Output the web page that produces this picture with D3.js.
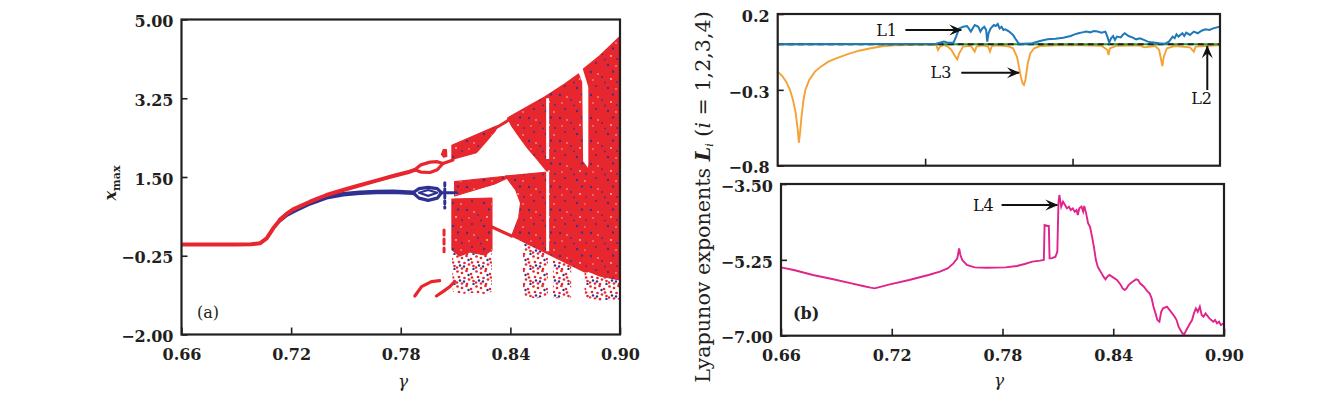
<!DOCTYPE html>
<html><head><meta charset="utf-8">
<script src="https://cdn.jsdelivr.net/npm/d3@7"></script>
<style>html,body{margin:0;padding:0;background:#fff}svg{display:block}</style>
</head><body>
<svg id="chart" width="1339" height="394"></svg>
<script>
// ---------------- tick values ----------------
const gammaTicks = [0.66, 0.72, 0.78, 0.84, 0.90];
const xmaxTicks = [-2.00, -0.25, 1.50, 3.25, 5.00];
const lyapTopTicks = [-0.8, -0.3, 0.2];
const lyapTopGammaTicks = [0.74, 0.82];
const lyapBotTicks = [-7.00, -5.25, -3.50];

// ---------------- panel (a): bifurcation diagram [gamma, x_max] ----------------
const redBranch = [[0.66,0.0],[0.690,0.0],[0.698,0.004],[0.7029,0.027],[0.7066,0.138],[0.7102,0.36],[0.7139,0.544],[0.7175,0.678],[0.7211,0.782],[0.7303,0.951],[0.7394,1.10],[0.7485,1.211],[0.7576,1.316],[0.7667,1.418],[0.7758,1.522],[0.7849,1.618],[0.7877,1.66]];
const redLoopUpper = [[0.7877,1.66],[0.7910,1.77],[0.7960,1.83],[0.8000,1.84],[0.8031,1.80],[0.8086,1.88]];
const redLoopLower = [[0.7877,1.66],[0.7910,1.61],[0.7960,1.60],[0.8000,1.66],[0.8031,1.80]];
const redLink = [[0.8314,2.58],[0.8340,2.64],[0.8378,2.73],[0.8400,2.80]];
const redDiagonal = [[0.8296,0.396],[0.8407,0.189]];
const redArc1 = [[0.7877,-1.144],[0.7914,-0.937],[0.7968,-0.826],[0.8013,-0.804]];
const redArc2 = [[0.7995,-1.144],[0.8031,-1.048],[0.8068,-0.937],[0.8095,-0.826]];
const redDashes = [[0.8037,0.32],[0.8037,-0.16]];
const blueBranch = [[0.7139,0.544],[0.7175,0.66],[0.7211,0.74],[0.7303,0.916],[0.7394,1.049],[0.7485,1.116],[0.7576,1.151],[0.7667,1.165],[0.7758,1.172],[0.7867,1.15]];
const blueLoopUpper = [[0.7867,1.15],[0.7900,1.24],[0.7950,1.27],[0.8000,1.24],[0.8023,1.15],[0.8105,1.15]];
const blueLoopLower = [[0.7867,1.15],[0.7900,1.03],[0.7950,0.98],[0.8000,1.03],[0.8023,1.15]];
const blueLoopInner = [[0.7900,1.15],[0.7950,1.21],[0.8000,1.15],[0.7950,1.08],[0.7900,1.15]];
const blueDashes = [[0.8041,1.37],[0.8041,0.81]];
// dense chaotic bands (outlines)
const bandR1 = [[0.8080,2.204],[0.8314,2.618],[0.8332,2.633],[0.8314,2.507],[0.8259,2.249],[0.8214,2.040],[0.8080,1.893]];
const bandMid = [[0.8095,1.396],[0.8385,1.522],[0.8385,1.478],[0.8314,1.344],[0.8095,1.078]];
const blockB1 = [[0.8080,1.011],[0.8299,1.033],[0.8299,-0.12],[0.8259,-0.233],[0.8177,-0.167],[0.8123,-0.256],[0.8080,-0.12]];
const regionUM = [[0.8385,2.811],[0.8451,2.967],[0.8587,3.278],[0.8697,3.567],[0.8773,3.789],[0.8790,3.60],[0.8795,1.85],[0.8822,1.70],[0.8822,-0.611],[0.8806,-0.611],[0.8407,0.189],[0.8445,0.589],[0.8456,0.922],[0.8429,1.211],[0.8396,1.389],[0.8374,1.522],[0.8604,1.611],[0.8549,1.878],[0.8494,2.144],[0.8445,2.411],[0.8407,2.633]];
const regionR = [[0.8800,3.90],[0.8888,4.189],[0.8997,4.611],[0.8997,-0.789],[0.8888,-0.700],[0.8811,-0.567],[0.8811,0.989],[0.8830,1.80],[0.8830,3.50]];
const blobA = [[0.8023,2.0],[0.8033,2.11],[0.8050,2.11],[0.8052,1.96],[0.8035,1.94]];
// sparse (dotted) chaotic parts
const sparseB1 = [[0.8080,-0.12],[0.8299,-0.12],[0.8299,-1.05],[0.8259,-1.10],[0.8190,-1.08],[0.8130,-1.10],[0.8085,-1.05]];
const sparseS2 = [[0.8469,0.05],[0.8605,-0.22],[0.8605,-1.15],[0.8540,-1.20],[0.8469,-1.15]];
const sparseS3 = [[0.8633,-0.28],[0.8733,-0.45],[0.8733,-1.18],[0.8633,-1.20]];
const sparseR = [[0.8806,-0.55],[0.8997,-0.75],[0.8997,-1.22],[0.8900,-1.25],[0.8806,-1.18]];
// periodic windows (gaps) inside chaotic bands: [gamma, top, bottom]
const windowsA = [[0.8604,3.25,1.90],[0.8604,1.62,-0.15]];

// ---------------- panel (b) top: Lyapunov exponents L1, L2, L3 ----------------
const L1 = [[0.66,0.0],[0.7460,0.004],[0.7502,0.018],[0.7522,0.011],[0.7554,0.011],[0.7568,0.051],[0.7585,0.105],[0.7606,0.116],[0.7627,0.121],[0.7637,0.105],[0.7648,0.084],[0.7658,0.105],[0.7669,0.127],[0.7689,0.116],[0.7700,0.084],[0.7710,0.105],[0.7721,0.116],[0.7731,0.095],[0.7737,0.018],[0.7744,0.073],[0.7756,0.105],[0.7773,0.127],[0.7783,0.121],[0.7794,0.134],[0.7804,0.105],[0.7815,0.116],[0.7825,0.095],[0.7835,0.099],[0.7856,0.084],[0.7877,0.062],[0.7894,0.029],[0.7909,0.004],[0.7940,0.004],[0.7982,0.007],[0.8023,0.022],[0.8065,0.033],[0.8107,0.037],[0.8149,0.044],[0.8190,0.055],[0.8211,0.066],[0.8232,0.073],[0.8253,0.079],[0.8274,0.084],[0.8295,0.079],[0.8316,0.088],[0.8336,0.084],[0.8357,0.077],[0.8378,0.084],[0.8389,0.051],[0.8399,0.011],[0.8409,0.040],[0.8420,0.055],[0.8430,0.029],[0.8441,0.051],[0.8462,0.046],[0.8472,0.062],[0.8483,0.073],[0.8504,0.055],[0.8524,0.046],[0.8545,0.033],[0.8566,0.040],[0.8587,0.029],[0.8608,0.018],[0.8629,0.013],[0.8649,0.011],[0.8670,0.007],[0.8702,0.004],[0.8723,0.018],[0.8743,0.051],[0.8754,0.040],[0.8764,0.066],[0.8775,0.051],[0.8796,0.073],[0.8806,0.055],[0.8817,0.077],[0.8837,0.062],[0.8858,0.084],[0.8879,0.073],[0.8900,0.090],[0.8921,0.099],[0.8942,0.095],[0.8963,0.105],[0.8983,0.112],[0.9000,0.116]];
const L2 = [[0.66,0.0],[0.90,0.0]];
const L3 = [[0.66,-0.180],[0.6625,-0.209],[0.6646,-0.246],[0.6667,-0.301],[0.6683,-0.367],[0.6698,-0.455],[0.6709,-0.565],[0.6715,-0.648],[0.6721,-0.587],[0.6729,-0.477],[0.6740,-0.367],[0.6750,-0.301],[0.6771,-0.235],[0.6802,-0.180],[0.6834,-0.147],[0.6875,-0.114],[0.6917,-0.092],[0.6980,-0.064],[0.7042,-0.042],[0.7105,-0.026],[0.7168,-0.013],[0.7230,-0.007],[0.7314,-0.004],[0.7397,-0.002],[0.7460,-0.004],[0.7470,-0.037],[0.7481,-0.015],[0.7502,-0.004],[0.7522,-0.015],[0.7543,-0.037],[0.7564,-0.081],[0.7575,-0.099],[0.7585,-0.059],[0.7606,-0.015],[0.7648,-0.009],[0.7669,-0.048],[0.7679,-0.015],[0.7710,-0.007],[0.7742,-0.015],[0.7752,-0.048],[0.7762,-0.011],[0.7794,-0.007],[0.7835,-0.011],[0.7856,-0.015],[0.7877,-0.026],[0.7898,-0.081],[0.7909,-0.147],[0.7919,-0.213],[0.7929,-0.257],[0.7936,-0.268],[0.7944,-0.235],[0.7957,-0.125],[0.7971,-0.059],[0.7992,-0.026],[0.8023,-0.011],[0.8149,-0.004],[0.8253,-0.007],[0.8357,-0.009],[0.8389,-0.037],[0.8395,-0.070],[0.8403,-0.026],[0.8441,-0.009],[0.8566,-0.007],[0.8587,-0.020],[0.8649,-0.011],[0.8670,-0.037],[0.8687,-0.143],[0.8695,-0.081],[0.8712,-0.026],[0.8754,-0.011],[0.8837,-0.020],[0.8858,-0.048],[0.8868,-0.015],[0.8921,-0.011],[0.8983,-0.007],[0.9000,-0.007]];

// ---------------- panel (b) bottom: Lyapunov exponent L4 ----------------
const L4 = [[0.66,-5.423],[0.6669,-5.485],[0.6773,-5.600],[0.6877,-5.692],[0.6982,-5.792],[0.7044,-5.854],[0.7086,-5.892],[0.7107,-5.908],[0.7128,-5.885],[0.7190,-5.815],[0.7294,-5.715],[0.7399,-5.600],[0.7461,-5.523],[0.7503,-5.446],[0.7534,-5.331],[0.7555,-5.215],[0.7565,-4.985],[0.7572,-5.138],[0.7582,-5.254],[0.7607,-5.369],[0.7649,-5.423],[0.7711,-5.431],[0.7816,-5.423],[0.7878,-5.392],[0.7920,-5.346],[0.7962,-5.292],[0.8003,-5.269],[0.8024,-5.254],[0.8028,-4.446],[0.8045,-4.469],[0.8051,-4.469],[0.8055,-5.215],[0.8066,-5.215],[0.8087,-5.177],[0.8097,-5.062],[0.8103,-3.946],[0.8108,-3.754],[0.8118,-4.023],[0.8128,-3.908],[0.8139,-3.985],[0.8149,-4.062],[0.8160,-4.023],[0.8170,-4.100],[0.8181,-4.062],[0.8191,-4.138],[0.8201,-4.100],[0.8208,-4.215],[0.8216,-4.062],[0.8228,-4.023],[0.8237,-4.138],[0.8243,-4.008],[0.8253,-4.177],[0.8264,-4.408],[0.8274,-4.485],[0.8285,-4.715],[0.8295,-4.946],[0.8306,-5.254],[0.8316,-5.408],[0.8326,-5.485],[0.8337,-5.562],[0.8347,-5.638],[0.8358,-5.700],[0.8368,-5.638],[0.8379,-5.600],[0.8399,-5.654],[0.8420,-5.715],[0.8441,-5.831],[0.8451,-5.908],[0.8462,-5.946],[0.8472,-5.908],[0.8483,-5.831],[0.8504,-5.754],[0.8524,-5.700],[0.8535,-5.715],[0.8545,-5.792],[0.8566,-5.869],[0.8587,-5.985],[0.8597,-6.023],[0.8608,-6.138],[0.8618,-6.331],[0.8629,-6.485],[0.8639,-6.638],[0.8650,-6.677],[0.8660,-6.446],[0.8670,-6.369],[0.8691,-6.331],[0.8712,-6.446],[0.8733,-6.562],[0.8743,-6.638],[0.8754,-6.792],[0.8764,-6.869],[0.8775,-6.946],[0.8785,-6.962],[0.8796,-6.869],[0.8806,-6.792],[0.8816,-6.715],[0.8827,-6.638],[0.8837,-6.485],[0.8848,-6.369],[0.8858,-6.446],[0.8869,-6.331],[0.8879,-6.523],[0.8889,-6.562],[0.8900,-6.485],[0.8921,-6.600],[0.8942,-6.677],[0.8952,-6.638],[0.8962,-6.715],[0.8973,-6.677],[0.8983,-6.754],[0.9000,-6.715]];

// annotation arrows (gamma / exponent coordinates)
const arrowsTop = [
  {text:"L1", tg:0.7269, tv:0.0945, g1:0.7293, v1:0.0945, g2:0.7596, v2:0.0945, anchor:"end"},
  {text:"L3", tg:0.7564, tv:-0.187, g1:0.7596, v1:-0.187, g2:0.7909, v2:-0.187, anchor:"end"},
  {text:"L2", tg:0.8900, tv:-0.356, g1:0.8931, v1:-0.301, g2:0.8931, v2:-0.012, anchor:"middle"}
];
const arrowsBot = [
  {text:"L4", tg:0.7774, tv:-3.985, g1:0.7795, v1:-3.985, g2:0.8097, v2:-3.985, anchor:"end"}
];

// ---------------- drawing ----------------
const RED="#e8262d", BLUE="#2e3192", ORANGE="#f4a236", C1="#1f78b8", GREEN="#2ca02c", MAG="#e0248c", INK="#231f20";
const SERIF="'DejaVu Serif', 'Liberation Serif', serif";
const svg = d3.select("#chart");
const defs = svg.append("defs");

const xa = d3.scaleLinear().domain([0.66,0.90]).range([181.5,620]);
const ya = d3.scaleLinear().domain([-2,5]).range([334.5,19.5]);
const xb1 = d3.scaleLinear().domain([0.66,0.90]).range([777.7,1220]);
const yb1 = d3.scaleLinear().domain([-0.8,0.2]).range([165.7,14]);
const xb2 = d3.scaleLinear().domain([0.66,0.90]).range([781,1224]);
const yb2 = d3.scaleLinear().domain([-7,-3.5]).range([335.7,184]);

function clip(id,xs,ys){
  defs.append("clipPath").attr("id",id).append("rect")
    .attr("x",xs.range()[0]).attr("y",ys.range()[1])
    .attr("width",xs.range()[1]-xs.range()[0]).attr("height",ys.range()[0]-ys.range()[1]);
}
clip("ca",xa,ya); clip("cb1",xb1,yb1); clip("cb2",xb2,yb2);

// texture patterns (style only)
const pb = defs.append("pattern").attr("id","pBlue").attr("patternUnits","userSpaceOnUse").attr("width",31).attr("height",23);
[[2,3,1.2],[13,8,1.0],[24,2.5,1.2],[7,17,1.1],[19,19,1.2],[28,13,1.0],[16,13.5,0.9]].forEach(p=>pb.append("circle").attr("cx",p[0]).attr("cy",p[1]).attr("r",p[2]).attr("fill",BLUE).attr("opacity",0.85));
[[9,5,0.8],[22,10,0.9],[4,11,0.7],[27,20,0.8]].forEach(p=>pb.append("circle").attr("cx",p[0]).attr("cy",p[1]).attr("r",p[2]).attr("fill","#fff").attr("opacity",0.75));
const ps = defs.append("pattern").attr("id","pSparse").attr("patternUnits","userSpaceOnUse").attr("width",19).attr("height",15);
[[1.5,1.5],[6,3],[10.5,1],[15,4],[3,7],[8.5,8],[13,9.5],[17.5,11],[1,12.5],[6,13.5],[11,14],[16,7.5]].forEach(p=>ps.append("circle").attr("cx",p[0]).attr("cy",p[1]).attr("r",1.35).attr("fill",RED));
[[12.5,5],[4,10.5],[17.5,14],[8,11.5]].forEach(p=>ps.append("circle").attr("cx",p[0]).attr("cy",p[1]).attr("r",1.2).attr("fill",BLUE));

// arrow marker
defs.append("marker").attr("id","ah").attr("viewBox","-13 -7 15 14").attr("refX",0).attr("refY",0)
  .attr("markerWidth",15).attr("markerHeight",14).attr("markerUnits","userSpaceOnUse").attr("orient","auto")
  .append("path").attr("d","M1,0 L-12,-5.5 L-7,0 L-12,5.5 Z").attr("fill","#111");

// ---- panel (a)
const ga = svg.append("g").attr("clip-path","url(#ca)");
const lineA = d3.line().x(d=>xa(d[0])).y(d=>ya(d[1]));
const polyA = d=>lineA(d)+"Z";
[sparseB1,sparseS2,sparseS3,sparseR].forEach(p=>ga.append("path").attr("d",polyA(p)).attr("fill","url(#pSparse)"));
[bandR1,bandMid,blockB1,regionUM,regionR,blobA].forEach(p=>{
  ga.append("path").attr("d",polyA(p)).attr("fill",RED).attr("stroke",RED).attr("stroke-width",1.2).attr("stroke-linejoin","round");
  ga.append("path").attr("d",polyA(p)).attr("fill","url(#pBlue)");
});
windowsA.forEach(w=>ga.append("line").attr("x1",xa(w[0])).attr("x2",xa(w[0])).attr("y1",ya(w[1])).attr("y2",ya(w[2])).attr("stroke","#fff").attr("stroke-width",3));
function strokeA(d,c,w,dash){const p=ga.append("path").attr("d",lineA(d)).attr("fill","none").attr("stroke",c).attr("stroke-width",w).attr("stroke-linecap","round").attr("stroke-linejoin","round"); if(dash)p.attr("stroke-dasharray",dash);}
strokeA(blueBranch,BLUE,4.5); strokeA(blueLoopUpper,BLUE,3.2); strokeA(blueLoopLower,BLUE,3.2); strokeA(blueLoopInner,BLUE,2.2);
strokeA(blueDashes,BLUE,3,"3,3");
strokeA(redBranch,RED,4); strokeA(redLoopUpper,RED,3.2); strokeA(redLoopLower,RED,3.2);
strokeA(redLink,RED,3); strokeA(redDiagonal,RED,3.2); strokeA(redArc1,RED,3.2); strokeA(redArc2,RED,3.2);
strokeA(redDashes,RED,3,"5,4");

// ---- panel (b) top
const gb1 = svg.append("g").attr("clip-path","url(#cb1)");
const lineB1 = d3.line().x(d=>xb1(d[0])).y(d=>yb1(d[1]));
gb1.append("path").attr("d",lineB1(L3)).attr("fill","none").attr("stroke",ORANGE).attr("stroke-width",1.9);
gb1.append("path").attr("d",lineB1(L2)).attr("fill","none").attr("stroke",GREEN).attr("stroke-width",2);
gb1.append("path").attr("d",lineB1(L2)).attr("fill","none").attr("stroke","#222").attr("stroke-width",2).attr("stroke-dasharray","6,4");
gb1.append("path").attr("d",lineB1(L1)).attr("fill","none").attr("stroke",C1).attr("stroke-width",2);

// ---- panel (b) bottom
const gb2 = svg.append("g").attr("clip-path","url(#cb2)");
const lineB2 = d3.line().x(d=>xb2(d[0])).y(d=>yb2(d[1]));
gb2.append("path").attr("d",lineB2(L4)).attr("fill","none").attr("stroke",MAG).attr("stroke-width",1.9);

// ---- frames and axes
function frame(xs,ys){svg.append("rect").attr("x",xs.range()[0]).attr("y",ys.range()[1]).attr("width",xs.range()[1]-xs.range()[0]).attr("height",ys.range()[0]-ys.range()[1]).attr("fill","none").attr("stroke",INK).attr("stroke-width",2.2);}
function styleAxis(g,size){
  g.select(".domain").remove();
  g.attr("font-family",SERIF).attr("font-size",size).attr("font-weight","bold");
  g.selectAll("text").attr("fill",INK);
  g.selectAll("line").attr("stroke",INK).attr("stroke-width",1.6);
}
function leftAxis(xs,ys,vals,fmt){
  const g=svg.append("g").attr("transform",`translate(${xs.range()[0]},0)`)
    .call(d3.axisLeft(ys).tickValues(vals).tickFormat(d3.format(fmt)).tickSizeInner(-6).tickSizeOuter(0).tickPadding(8));
  styleAxis(g,16); g.selectAll("text").attr("dy","0.45em");
}
function bottomAxis(xs,ys,vals,fmt,labels){
  const g=svg.append("g").attr("transform",`translate(0,${ys.range()[0]})`)
    .call(d3.axisBottom(xs).tickValues(vals).tickFormat(labels?d3.format(fmt):()=>"").tickSizeInner(-7).tickSizeOuter(0).tickPadding(14));
  styleAxis(g,16);
}
leftAxis(xa,ya,xmaxTicks,".2f"); bottomAxis(xa,ya,gammaTicks,".2f",true); frame(xa,ya);
leftAxis(xb1,yb1,lyapTopTicks,".1f"); bottomAxis(xb1,yb1,lyapTopGammaTicks,".2f",false); frame(xb1,yb1);
leftAxis(xb2,yb2,lyapBotTicks,".2f"); bottomAxis(xb2,yb2,gammaTicks,".2f",true); frame(xb2,yb2);

// ---- annotations
function arrows(list,xs,ys){
  list.forEach(a=>{
    svg.append("line").attr("x1",xs(a.g1)).attr("y1",ys(a.v1)).attr("x2",xs(a.g2)).attr("y2",ys(a.v2))
      .attr("stroke","#111").attr("stroke-width",2).attr("marker-end","url(#ah)");
    svg.append("text").attr("x",xs(a.tg)-(a.anchor==="end"?4:0)).attr("y",ys(a.tv)).attr("dy","0.36em")
      .attr("text-anchor",a.anchor).attr("font-family",SERIF).attr("font-size",16).attr("fill","#111").text(a.text);
  });
}
arrows(arrowsTop,xb1,yb1); arrows(arrowsBot,xb2,yb2);

// ---- labels
svg.append("text").attr("x",xa(0.6685)).attr("y",ya(-1.51)).attr("dy","0.35em").attr("font-family",SERIF).attr("font-size",16).attr("fill",INK).text("(a)");
svg.append("text").attr("x",xb2(0.6665)).attr("y",yb2(-6.485)).attr("dy","0.35em").attr("font-family",SERIF).attr("font-size",16).attr("font-weight","bold").attr("fill",INK).text("(b)");
svg.append("text").attr("x",403).attr("y",381).attr("dy","0.35em").attr("text-anchor","middle").attr("font-family",SERIF).attr("font-style","italic").attr("font-size",17).attr("fill",INK).text("γ");
svg.append("text").attr("x",999).attr("y",380).attr("dy","0.35em").attr("text-anchor","middle").attr("font-family",SERIF).attr("font-style","italic").attr("font-size",17).attr("fill",INK).text("γ");
const xl = svg.append("text").attr("transform","translate(110,183) rotate(-90)").attr("text-anchor","middle").attr("dy","0.35em")
  .attr("font-family",SERIF).attr("font-size",16).attr("font-weight","bold").attr("fill",INK);
xl.append("tspan").attr("font-style","italic").text("x");
xl.append("tspan").attr("font-size",11).attr("dy","4").text("max");
const ll = svg.append("text").attr("transform","translate(703,197) rotate(-90)").attr("text-anchor","middle").attr("dy","0.35em")
  .attr("font-family",SERIF).attr("font-size",15).attr("fill",INK);
ll.append("tspan").text("Lyapunov exponents  ");
ll.append("tspan").attr("font-style","italic").attr("font-weight","bold").text("L");
ll.append("tspan").attr("font-style","italic").attr("font-size",11).attr("dy","3").text("i");
ll.append("tspan").attr("dy","-3").text(" (");
ll.append("tspan").attr("font-style","italic").text("i");
ll.append("tspan").text(" = 1,2,3,4)");
const len = ll.node().getComputedTextLength();
ll.attr("font-size",15*373/len);
</script>
</body></html>
